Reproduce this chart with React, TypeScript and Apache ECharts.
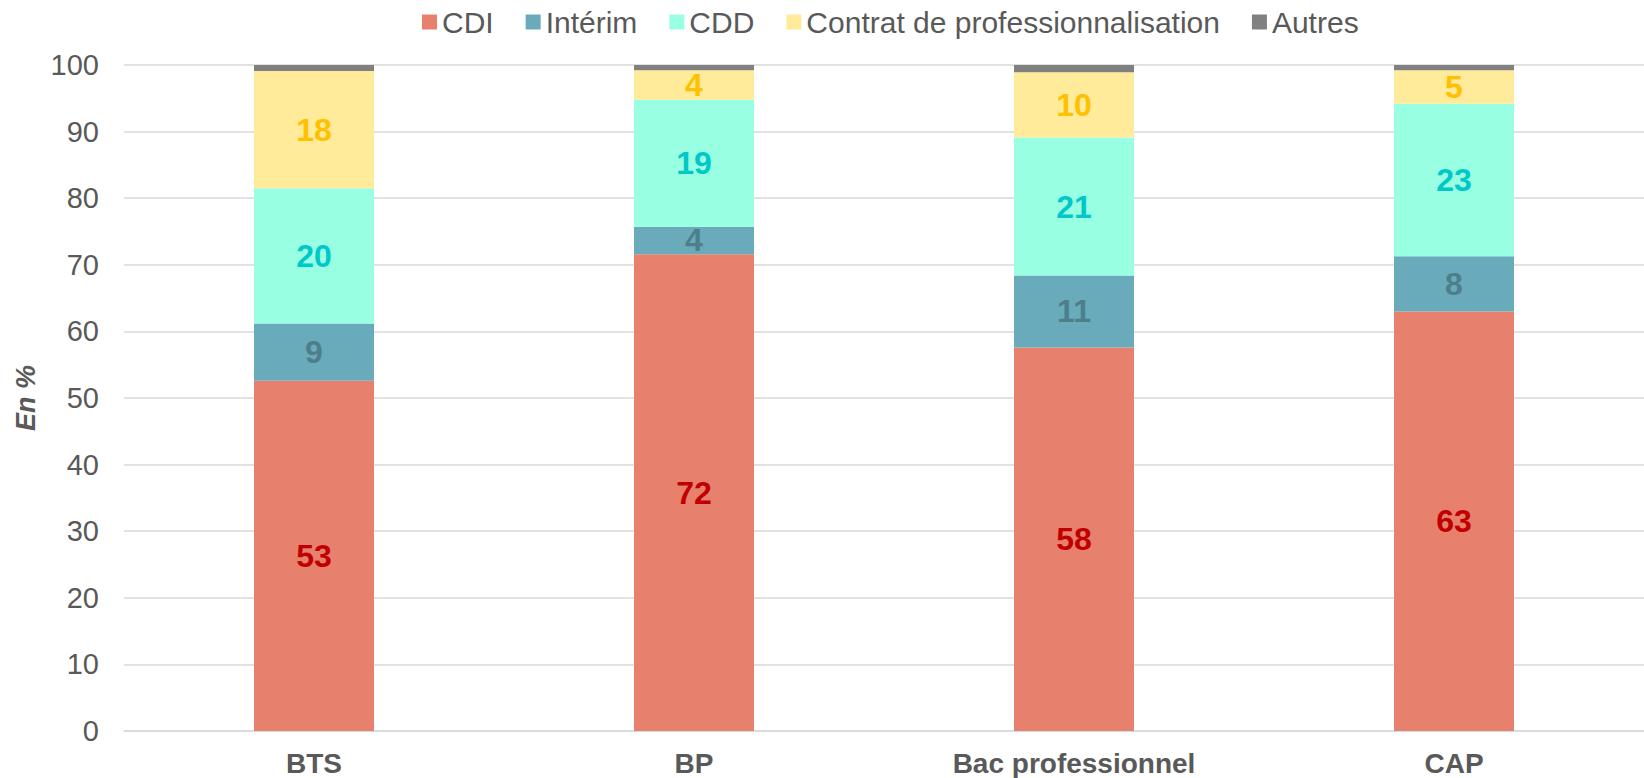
import React, { useEffect, useRef } from "react";
import * as echarts from "echarts";

const categories = ["BTS", "BP", "Bac professionnel", "CAP"];
const seriesNames = ["CDI", "Intérim", "CDD", "Contrat de professionnalisation", "Autres"];
const cdi = [52.6, 71.6, 57.6, 63.0];
const interim = [8.6, 4.1, 10.8, 8.3];
const cdd = [20.3, 19.1, 20.7, 22.9];
const contrat = [17.6, 4.4, 9.8, 5.0];
const autres = [0.9, 0.8, 1.1, 0.8];
const yTicks = [0, 10, 20, 30, 40, 50, 60, 70, 80, 90, 100];

const fillColors = ["#E8806E", "#6AABBB", "#99FFE2", "#FFEB99", "#808080"];
const labelColors = ["#C00000", "#4D7F8B", "#00C8C8", "#FFC000", null];
const FONT = "Liberation Sans, Arial, sans-serif";

export default function App() {
  const ref = useRef<HTMLDivElement>(null);
  useEffect(() => {
    if (!ref.current) return;
    const chart = echarts.init(ref.current, null, { renderer: "svg" });
    const values = [cdi, interim, cdd, contrat, autres];
    chart.setOption({
      animation: false,
      backgroundColor: "#FFFFFF",
      textStyle: { fontFamily: FONT },
      legend: {
        top: 2,
        left: 417,
        itemWidth: 15,
        itemHeight: 15,
        itemGap: 32,
        icon: "rect",
        textStyle: { color: "#595959", fontSize: 30, fontFamily: FONT },
        data: seriesNames,
      },
      grid: { left: 124, top: 65, width: 1526, height: 666 },
      xAxis: {
        type: "category",
        data: categories,
        axisLine: { show: true, lineStyle: { color: "#D9D9D9", width: 1.5 } },
        axisTick: { show: false },
        axisLabel: {
          color: "#595959",
          fontSize: 28,
          fontWeight: "bold",
          margin: 18,
          fontFamily: FONT,
        },
      },
      yAxis: {
        type: "value",
        min: yTicks[0],
        max: yTicks[yTicks.length - 1],
        interval: 10,
        name: "En %",
        nameLocation: "middle",
        nameRotate: 90,
        nameGap: 74,
        nameTextStyle: {
          color: "#595959",
          fontSize: 27,
          fontStyle: "italic",
          fontWeight: "bold",
          fontFamily: FONT,
        },
        axisLine: { show: false },
        axisTick: { show: false },
        splitLine: { lineStyle: { color: "#D9D9D9", width: 1.5 } },
        axisLabel: {
          color: "#595959",
          fontSize: 29,
          margin: 25,
          fontFamily: FONT,
        },
      },
      series: seriesNames.map((name, i) => ({
        name,
        type: "bar",
        stack: "total",
        barWidth: 120,
        data: values[i],
        itemStyle: { color: fillColors[i] },
        label: labelColors[i]
          ? {
              show: true,
              position: "inside",
              color: labelColors[i],
              fontSize: 32,
              fontWeight: "bold",
              fontFamily: FONT,
              formatter: (p: any) => String(Math.round(p.value)),
            }
          : { show: false },
      })),
    });
    return () => chart.dispose();
  }, []);
  return (
    <div
      ref={ref}
      style={{ position: "fixed", left: 0, top: 0, width: 1644, height: 778, overflow: "hidden" }}
    />
  );
}
